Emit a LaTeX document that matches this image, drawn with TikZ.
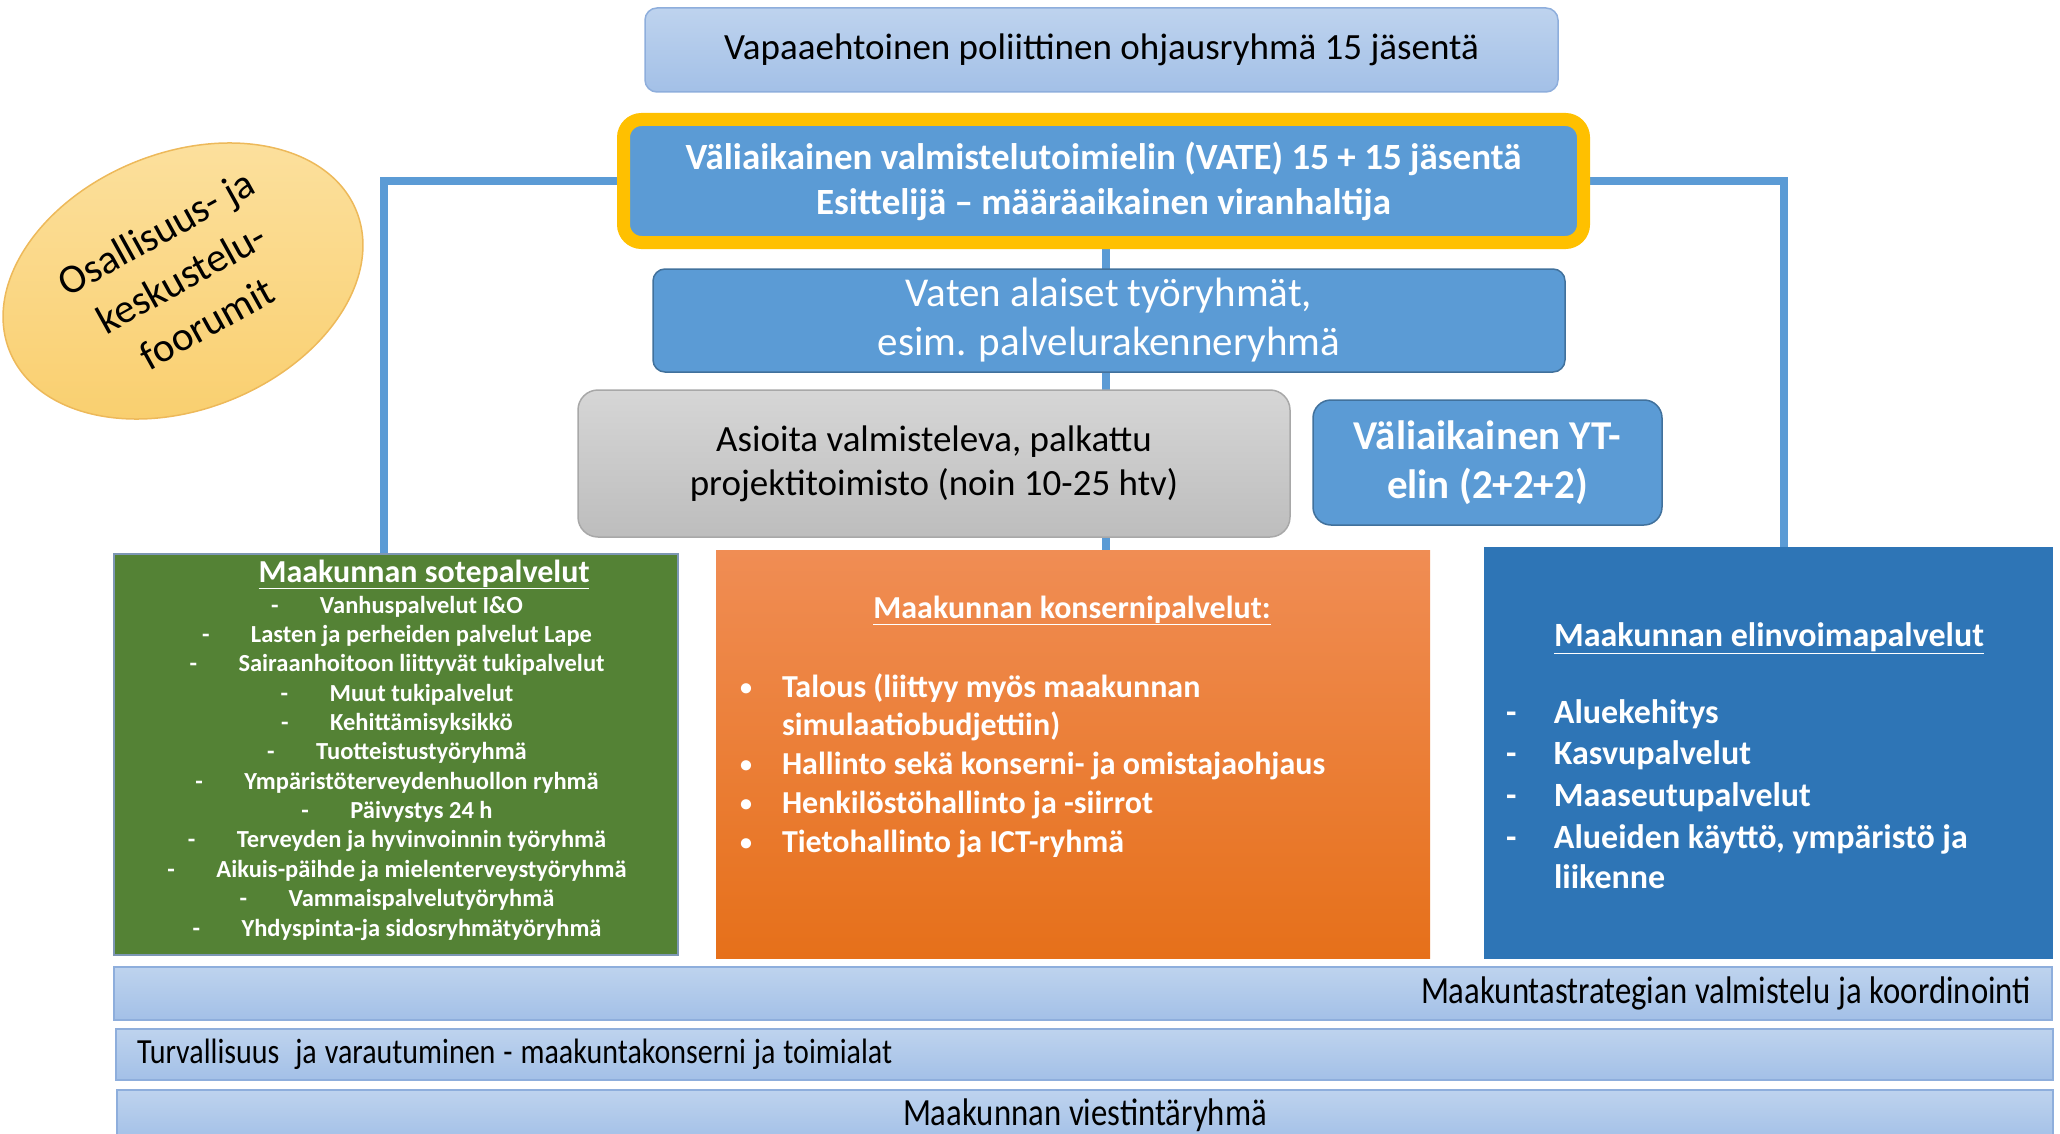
\documentclass[tikz,border=0pt]{standalone}
\usepackage{fontspec}
\setmainfont{Carlito}
\newfontfamily\condfont[FakeStretch=0.85]{Carlito}
\usetikzlibrary{backgrounds,shapes.geometric}
\definecolor{midblue}{HTML}{5B9BD5}
\definecolor{mbBorder}{HTML}{41719C}
\definecolor{lbTop}{HTML}{BED3EE}
\definecolor{lbBot}{HTML}{A3C0E7}
\definecolor{lbBorder}{HTML}{8EAEDC}
\definecolor{vgold}{HTML}{FFC000}
\definecolor{grTop}{HTML}{D6D6D6}
\definecolor{grBot}{HTML}{BDBDBD}
\definecolor{grBorder}{HTML}{A8A8A8}
\definecolor{sote}{HTML}{548235}
\definecolor{soteBorder}{HTML}{7D97B4}
\definecolor{orTop}{HTML}{F08D54}
\definecolor{orBot}{HTML}{E6701A}
\definecolor{elin}{HTML}{2E75B6}
\definecolor{elTop}{HTML}{FCE1A0}
\definecolor{elBot}{HTML}{F9CE6C}
\definecolor{elBorder}{HTML}{EDB95A}
\newcommand\smallbul{\makebox[42pt][l]{\raisebox{2pt}{\fontsize{24}{24}\selectfont•}}}
\newcommand\tightsp{\spaceskip=8pt\relax}
\begin{document}
\begin{tikzpicture}[x=1pt,y=-1pt,
  every node/.style={inner sep=0pt, outer sep=0pt},
  lightbox/.style={draw=lbBorder, line width=1.5pt, top color=lbTop, bottom color=lbBot},
  midbox/.style={draw=mbBorder, line width=1.5pt, fill=midblue, rounded corners=12pt, text=white},
  conn/.style={draw=midblue, line width=8pt},
  barbox/.style={lightbox, font=\condfont\fontsize{38.5}{42}\selectfont, inner xsep=21pt},
  gitem/.style={anchor=base, text=white, font=\bfseries\fontsize{24.5}{29}\selectfont},
  oitem/.style={anchor=base west, text=white, font=\bfseries\fontsize{32}{38}\selectfont},
  bitem/.style={anchor=base west, text=white, font=\bfseries\fontsize{34}{40}\selectfont}
]
\useasboundingbox (0,0) rectangle (2060,1134);

% upper boxes
\node[lightbox, rounded corners=12pt, minimum width=913pt, minimum height=84pt,
      font=\fontsize{37}{44}\selectfont] (top) at (1101.5,50)
  {Vapaaehtoinen poliittinen ohjausryhmä 15 jäsentä};

\node[draw=vgold, line width=13pt, fill=midblue, rounded corners=18pt,
      minimum width=960pt, minimum height=123pt, text=white, align=center,
      font=\bfseries\fontsize{37}{45}\selectfont] (vate) at (1103.5,181)
  {Väliaikainen valmistelutoimielin (VATE) 15 + 15 jäsentä\\Esittelijä – määräaikainen viranhaltija};

\node[midbox, minimum width=912pt, minimum height=103pt, align=center,
      font=\fontsize{41}{49}\selectfont] (vaten) at (1109,320.5)
  {Vaten alaiset työryhmät,\\esim. palvelurakenneryhmä};

\node[draw=grBorder, line width=1.5pt, top color=grTop, bottom color=grBot, rounded corners=20pt,
      minimum width=712pt, minimum height=147pt, align=center,
      font=\fontsize{37}{44}\selectfont] (gray) at (934,463.5)
  {Asioita valmisteleva, palkattu\\projektitoimisto (noin 10-25 htv)};

\node[midbox, rounded corners=18pt, minimum width=349pt, minimum height=125pt, align=center,
      font=\bfseries\fontsize{41}{49}\selectfont] (yt) at (1487.5,462.5)
  {Väliaikainen YT-\\elin (2+2+2)};

% ellipse
\node[ellipse, draw=elBorder, line width=1.5pt, top color=elTop, bottom color=elBot,
      minimum width=374pt, minimum height=228pt, rotate=22] (forum) at (183,281)
  {\rotatebox{7}{\fontsize{41}{52}\selectfont\begin{tabular}{@{}c@{}}Osallisuus- ja\\keskustelu-\\foorumit\end{tabular}}};

% lower boxes
\node[draw=soteBorder, line width=1.5pt, fill=sote, minimum width=564pt, minimum height=401pt] (green) at (396,754.5) {};
\node[top color=orTop, bottom color=orBot, minimum width=714pt, minimum height=408pt] (orange) at (1073,754) {};
\node[fill=elin, minimum width=569pt, minimum height=412pt] (blue) at (1768.5,753) {};

% green content
\node[anchor=base, text=white, font=\bfseries\fontsize{32}{38}\selectfont] (gtitle) at (424,582) {\underline{Maakunnan sotepalvelut}};
\foreach \t [count=\i] in {Vanhuspalvelut I\&O, Lasten ja perheiden palvelut Lape,
  Sairaanhoitoon liittyvät tukipalvelut, Muut tukipalvelut, Kehittämisyksikkö,
  Tuotteistustyöryhmä, Ympäristöterveydenhuollon ryhmä, Päivystys 24 h,
  Terveyden ja hyvinvoinnin työryhmä, Aikuis-päihde ja mielenterveystyöryhmä,
  Vammaispalvelutyöryhmä, Yhdyspinta-ja sidosryhmätyöryhmä}
  \node[gitem, name=g\i] at (397, 613+29.37*\i-29.37) {\makebox[49pt][l]{-}\t};

% orange content
\node[anchor=base, text=white, font=\bfseries\fontsize{32}{38}\selectfont] (otitle) at (1072,618) {\underline{Maakunnan konsernipalvelut:}};
\node[oitem] (o1) at (740,697) {\smallbul Talous (liittyy myös maakunnan};
\node[oitem] (o2) at (782,735) {simulaatiobudjettiin)};
\node[oitem] (o3) at (740,774) {\smallbul Hallinto sekä konserni- ja omistajaohjaus};
\node[oitem] (o4) at (740,813) {\smallbul Henkilöstöhallinto ja -siirrot};
\node[oitem] (o5) at (740,852) {\smallbul Tietohallinto ja ICT-ryhmä};

% blue content
\node[anchor=base, text=white, font=\bfseries\fontsize{34}{40}\selectfont] (btitle) at (1769,646) {\underline{Maakunnan elinvoimapalvelut}};
\node[bitem] (b1) at (1506,723) {\makebox[48pt][l]{-}Aluekehitys};
\node[bitem] (b2) at (1506,764) {\makebox[48pt][l]{-}Kasvupalvelut};
\node[bitem] (b3) at (1506,806) {\makebox[48pt][l]{-}Maaseutupalvelut};
\node[bitem] (b4) at (1506,848) {\makebox[48pt][l]{-}Alueiden käyttö, ympäristö ja};
\node[bitem] (b5) at (1554,888) {liikenne};

% bars
\node[barbox, minimum width=1938pt, minimum height=53pt, text width=1896pt, align=right] (bar1) at (1083,993.5)
  {\tightsp Maakuntastrategian valmistelu ja koordinointi};
\node[barbox, minimum width=1937pt, minimum height=51pt, text width=1895pt, align=left,
      font=\condfont\fontsize{35.3}{40}\selectfont] (bar2) at (1084.5,1054.5)
  {\tightsp Turvallisuus\ \ ja varautuminen - maakuntakonserni ja toimialat};
\node[barbox, minimum width=1936pt, minimum height=50pt, text width=1894pt, align=center] (bar3) at (1085,1115)
  {\tightsp Maakunnan viestintäryhmä};

% connectors
\begin{scope}[on background layer]
\draw[conn] (vate.west) -| ([xshift=-12pt]green.north);
\draw[conn] (vate.east) -| ([xshift=15pt]blue.north);
\draw[conn] ([xshift=2.5pt]vate.south) -- ([xshift=2.5pt]vate.south |- orange.north);
\end{scope}
\end{tikzpicture}
\end{document}
